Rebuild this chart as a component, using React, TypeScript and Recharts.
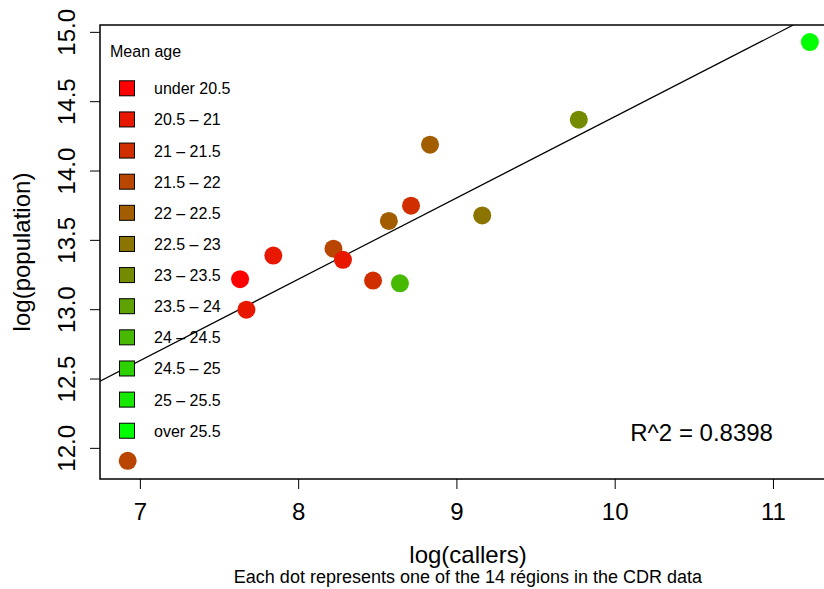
import { ScatterChart, Scatter, XAxis, YAxis, ReferenceLine, ReferenceArea, ReferenceDot, Legend, Label } from "recharts";

// one value per region in the CDR data
const logCallers = [6.92, 7.63, 7.67, 7.84, 8.22, 8.28, 8.47, 8.64, 8.57, 8.71, 8.83, 9.16, 9.77, 11.23];
const logPopulation = [11.91, 13.22, 13.0, 13.39, 13.44, 13.36, 13.21, 13.19, 13.64, 13.75, 14.19, 13.68, 14.37, 14.93];
const ageBand = [3, 0, 1, 1, 3, 1, 2, 8, 4, 2, 4, 5, 6, 11];

const ageLabels = [
  "under 20.5",
  "20.5 \u2013 21",
  "21 \u2013 21.5",
  "21.5 \u2013 22",
  "22 \u2013 22.5",
  "22.5 \u2013 23",
  "23 \u2013 23.5",
  "23.5 \u2013 24",
  "24 \u2013 24.5",
  "24.5 \u2013 25",
  "25 \u2013 25.5",
  "over 25.5",
];
const ageColors = [
  "#FF0000", "#E81700", "#D12E00", "#B94600", "#A25D00", "#8B7400",
  "#748B00", "#5DA200", "#46B900", "#2ED100", "#17E800", "#00FF00",
];

const xTicks = [7, 8, 9, 10, 11];
const yTicks = [12, 12.5, 13, 13.5, 14, 14.5, 15];
const xDomain: [number, number] = [6.745, 11.395];
const yDomain: [number, number] = [11.779, 15.053];

// fitted line, end points
const fitLine = [
  { x: 6.745, y: 12.485 },
  { x: 11.125, y: 15.053 },
];
const rSquared = "R^2 = 0.8398";

const data = logCallers.map((x, i) => ({
  x,
  y: logPopulation[i],
  color: ageColors[ageBand[i]],
}));

const FONT = "'Liberation Sans', Arial, Helvetica, sans-serif";

const XTick = ({ x, y, payload }: any) => (
  <text x={x} y={y + 29} textAnchor="middle" fontSize={24} fontFamily={FONT} fill="#000">
    {payload.value}
  </text>
);

const YTick = ({ y, payload }: any) => (
  <text
    x={75}
    y={y}
    transform={`rotate(-90 75 ${y})`}
    textAnchor="middle"
    fontSize={24}
    fontFamily={FONT}
    fill="#000"
  >
    {payload.value.toFixed(1)}
  </text>
);

const Dot = (p: any) => <circle cx={p.cx} cy={p.cy} r={9} fill={p.payload.color} />;

const AgeLegend = () => (
  <svg width={200} height={430} style={{ display: "block" }}>
    <text x={10} y={31.5} fontSize={16} fontFamily={FONT} fill="#000">
      Mean age
    </text>
    {ageLabels.map((label, i) => {
      const cy = 63.3 + 31.13 * i;
      return (
        <g key={label}>
          <rect x={19.5} y={cy - 7.5} width={15} height={15} fill={ageColors[i]} stroke="#000" strokeWidth={1} />
          <text x={54} y={cy + 6} fontSize={16} fontFamily={FONT} fill="#000">
            {label}
          </text>
        </g>
      );
    })}
  </svg>
);

export default function App() {
  return (
    <div style={{ position: "absolute", left: 0, top: 0, width: 824, height: 589, overflow: "hidden", background: "#fff" }}>
      <ScatterChart width={840} height={589} margin={{ top: 25, right: 4, bottom: 0, left: 0 }}>
        <XAxis
          type="number"
          dataKey="x"
          domain={xDomain}
          ticks={xTicks}
          allowDataOverflow
          height={110}
          axisLine={false}
          tickLine={{ stroke: "#000" }}
          tickSize={10}
          tick={<XTick />}
        >
          <Label
            content={({ viewBox }: any) => {
              const cx = viewBox.x + viewBox.width / 2;
              return (
                <g>
                  <text x={cx} y={viewBox.y + 84} textAnchor="middle" fontSize={24} fontFamily={FONT} fill="#000">
                    log(callers)
                  </text>
                  <text x={cx} y={viewBox.y + 104} textAnchor="middle" fontSize={18} fontFamily={FONT} fill="#000">
                    Each dot represents one of the 14 régions in the CDR data
                  </text>
                </g>
              );
            }}
          />
        </XAxis>
        <YAxis
          type="number"
          dataKey="y"
          domain={yDomain}
          ticks={yTicks}
          allowDataOverflow
          width={100}
          axisLine={false}
          tickLine={{ stroke: "#000" }}
          tickSize={10}
          tick={<YTick />}
        >
          <Label
            content={({ viewBox }: any) => {
              const cy = viewBox.y + viewBox.height / 2;
              return (
                <text
                  x={30}
                  y={cy}
                  transform={`rotate(-90 30 ${cy})`}
                  textAnchor="middle"
                  fontSize={24}
                  fontFamily={FONT}
                  fill="#000"
                >
                  log(population)
                </text>
              );
            }}
          />
        </YAxis>
        <ReferenceArea
          x1={xDomain[0]}
          x2={xDomain[1]}
          y1={yDomain[0]}
          y2={yDomain[1]}
          fill="none"
          fillOpacity={0}
          stroke="#000"
          strokeWidth={1.5}
        />
        <Scatter data={data} shape={<Dot />} isAnimationActive={false} />
        <ReferenceLine segment={fitLine} stroke="#000" strokeWidth={1.2} ifOverflow="hidden" />
        <ReferenceDot x={10.546} y={12.118} r={0} fill="none" stroke="none">
          <Label value={rSquared} position="center" fontSize={24} fontFamily={FONT} fill="#000" />
        </ReferenceDot>
        <Legend
          layout="horizontal"
          verticalAlign="middle"
          align="center"
          content={() => <AgeLegend />}
          wrapperStyle={{ position: "absolute", left: 100, top: 25, width: 200, height: 430 }}
        />
      </ScatterChart>
    </div>
  );
}
